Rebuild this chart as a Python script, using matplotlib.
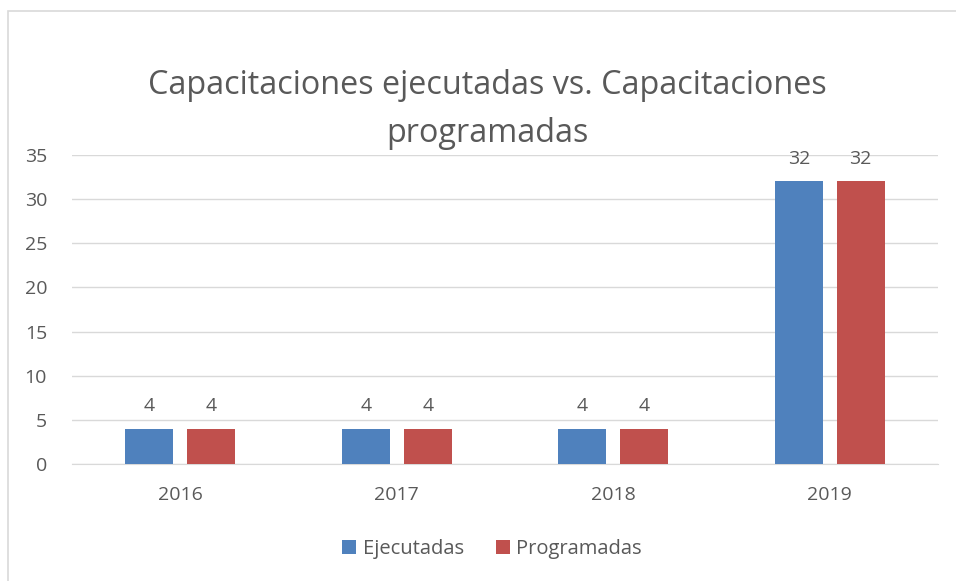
import matplotlib

matplotlib.use("Agg")
import matplotlib.pyplot as plt
import numpy as np
from matplotlib.patches import Rectangle

years = ["2016", "2017", "2018", "2019"]
ejecutadas = [4, 4, 4, 32]
programadas = [4, 4, 4, 32]
series_names = ["Ejecutadas", "Programadas"]
y_ticks = [0, 5, 10, 15, 20, 25, 30, 35]
title_lines = ["Capacitaciones ejecutadas vs. Capacitaciones", "programadas"]

TEXT = "#595959"
GRID = "#d9d9d9"
BLUE = "#4f81bd"
RED = "#c0504d"

plt.rcParams["font.family"] = ["Open Sans", "DejaVu Sans"]

fig = plt.figure(figsize=(9.56, 5.81), dpi=100)
fig.patches.append(Rectangle((8 / 956, -0.05), 1.2, 1 - 11 / 581 + 0.05,
                             transform=fig.transFigure, fill=False,
                             edgecolor=GRID, linewidth=1.2))
ax = fig.add_axes([72 / 956, 1 - 464 / 581, 866 / 956, 309 / 581])

x = np.arange(len(years))
width = 0.222
offset = 0.143
b1 = ax.bar(x - offset, ejecutadas, width, color=BLUE, label=series_names[0], zorder=3)
b2 = ax.bar(x + offset, programadas, width, color=RED, label=series_names[1], zorder=3)
for bars in (b1, b2):
    ax.bar_label(bars, padding=10, color=TEXT, fontsize=14)

ax.set_xlim(-0.5, len(years) - 0.5)
ax.set_ylim(0, 35)
ax.set_yticks(y_ticks)
ax.set_xticks(x, years)
ax.tick_params(length=0, colors=TEXT, labelsize=14)
ax.tick_params(axis="y", pad=18)
ax.tick_params(axis="x", pad=16)
ax.grid(axis="y", color=GRID, linewidth=1, zorder=0)
for side in ["top", "right", "left"]:
    ax.spines[side].set_visible(False)
ax.spines["bottom"].set_color(GRID)

# titulo em duas linhas separadas
for line, ypix in zip(title_lines, [85, 133]):
    fig.text(487 / 956, 1 - ypix / 581, line, ha="center", va="center",
             fontsize=23.3, color=TEXT)

fig.legend(loc="center", bbox_to_anchor=(492 / 956, 1 - 549 / 581), ncol=2, frameon=False,
           fontsize=14.5, labelcolor=TEXT, handlelength=0.7, handleheight=0.7,
           handletextpad=0.3, columnspacing=1.6)

fig.savefig("out.png", dpi=100)
